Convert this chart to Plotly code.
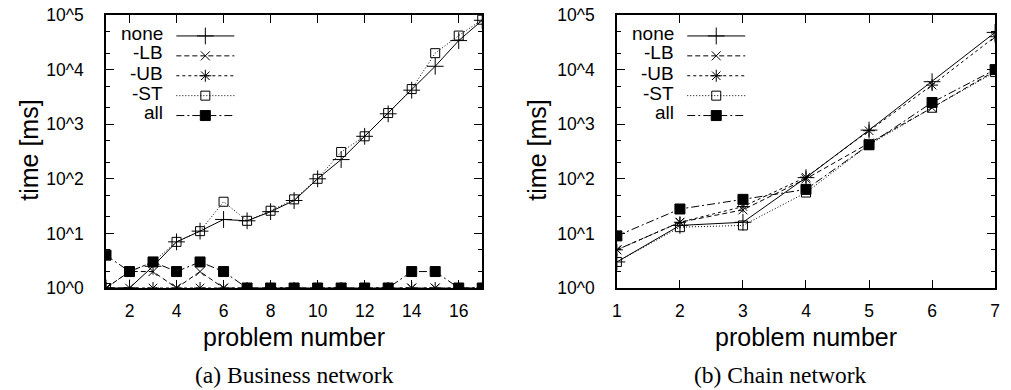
import plotly.graph_objects as go

# ---- data ----
labels = ["none", "-LB", "-UB", "-ST", "all"]

prob_a = list(range(1, 18))
none_a = [1, 1, 2.5, 7, 11, 18, 17, 25, 40, 100, 225, 600, 1550, 4200, 11500, 34000, 80000]
lb_a = [1, 2, 2, 1, 2, 1, 1, 1, 1, 1, 1, 1, 1, 1, 1, 1, 1]
ub_a = [1, 1, 1, 1, 1, 1, 1, 1, 1, 1, 1, 1, 1, 1, 1, 1, 1]
st_a = [1, 2, 3, 7, 11, 38, 17, 26, 42, 100, 310, 600, 1600, 4400, 20000, 42000, 82000]
all_a = [4, 2, 3, 2, 3, 2, 1, 1, 1, 1, 1, 1, 1, 2, 2, 1, 1]

prob_b = list(range(1, 8))
none_b = [3, 14, 16, 105, 780, 6000, 48000]
lb_b = [5, 16, 27, 100, 450, 2000, 9500]
ub_b = [5, 16, 31, 107, 760, 5200, 40000]
st_b = [3, 13, 14, 56, 420, 2000, 9000]
all_b = [9, 28, 42, 64, 420, 2500, 10000]

ytick_vals = [1, 10, 100, 1000, 10000, 100000]
ytick_text = ["10^0", "10^1", "10^2", "10^3", "10^4", "10^5"]
yminor_vals = [2, 5, 20, 50, 200, 500, 2000, 5000, 20000, 50000]
xtick_a = [2, 4, 6, 8, 10, 12, 14, 16]
xtick_b = [1, 2, 3, 4, 5, 6, 7]

# ---- styles ----
dashes = ["solid", "5px,3px", "3px,3px", "1px,2px", "8px,3px,2px,3px"]
symbols = ["cross-thin-open", "x-thin-open", "asterisk-open", "square-open", "square"]
msizes = [12, 9, 10, 9, 10]

W, H = 1011, 390
ML, MR, MT, MB = 0, 0, 15, 102
PH = H - MT - MB


def px_x(p):
    return p / W


def px_y(p):
    return (H - MB - p) / PH


FONT = "Liberation Sans, Arial, sans-serif"

fig = go.Figure()

series_a = [none_a, lb_a, ub_a, st_a, all_a]
series_b = [none_b, lb_b, ub_b, st_b, all_b]

for i, lab in enumerate(labels):
    fig.add_trace(go.Scatter(
        x=prob_a, y=series_a[i], name=lab, mode="lines+markers",
        line=dict(color="black", width=1, dash=dashes[i]),
        marker=dict(symbol=symbols[i], size=msizes[i], color="black",
                    line=dict(color="black", width=1)),
        xaxis="x", yaxis="y", legend="legend"))
for i, lab in enumerate(labels):
    fig.add_trace(go.Scatter(
        x=prob_b, y=series_b[i], name=lab, mode="lines+markers",
        line=dict(color="black", width=1, dash=dashes[i]),
        marker=dict(symbol=symbols[i], size=msizes[i], color="black",
                    line=dict(color="black", width=1)),
        xaxis="x2", yaxis="y2", legend="legend2"))

axis_common = dict(showline=True, linecolor="black", linewidth=1.5, mirror="ticks",
                   ticks="inside", ticklen=8, tickwidth=1, tickcolor="black",
                   showgrid=False, zeroline=False,
                   tickfont=dict(family=FONT, size=17.5, color="black"))

yaxis_common = dict(axis_common, type="log", range=[0, 5], tickvals=ytick_vals,
                    ticktext=ytick_text, ticklabelstandoff=17,
                    minor=dict(tickvals=yminor_vals, ticks="inside", ticklen=4,
                               tickcolor="black", tickwidth=1))

fig.update_layout(
    width=W, height=H, margin=dict(l=ML, r=MR, t=MT, b=MB),
    paper_bgcolor="white", plot_bgcolor="white", showlegend=True,
    xaxis=dict(axis_common, domain=[px_x(102), px_x(482)], range=[1, 17],
               tickvals=xtick_a, anchor="y", ticklabelstandoff=6),
    yaxis=dict(yaxis_common, domain=[0, 1], anchor="x"),
    xaxis2=dict(axis_common, domain=[px_x(618), px_x(1000)], range=[1, 7],
                tickvals=xtick_b, anchor="y2", ticklabelstandoff=6),
    yaxis2=dict(yaxis_common, domain=[0, 1], anchor="x2"),
    legend=dict(x=px_x(168), y=px_y(21), xanchor="left", yanchor="top",
                bgcolor="rgba(0,0,0,0)", itemwidth=58,
                font=dict(family=FONT, size=13, color="rgba(0,0,0,0)")),
    legend2=dict(x=px_x(684), y=px_y(21), xanchor="left", yanchor="top",
                 bgcolor="rgba(0,0,0,0)", itemwidth=58,
                 font=dict(family=FONT, size=13, color="rgba(0,0,0,0)")),
)

ann = []
# legend labels (gnuplot style: text left of sample)
for i, lab in enumerate(labels):
    for xr in (162, 678):
        ann.append(dict(text=lab, x=px_x(xr), y=px_y(33 + 20 * i), xref="paper", yref="paper",
                        xanchor="right", yanchor="middle", showarrow=False,
                        font=dict(family=FONT, size=19, color="black")))
# axis titles
for cx in (292, 809):
    ann.append(dict(text="problem number", x=px_x(cx), y=px_y(337), xref="paper", yref="paper",
                    xanchor="center", yanchor="middle", showarrow=False,
                    font=dict(family=FONT, size=25, color="black")))
for cx in (24, 537):
    ann.append(dict(text="time [ms]", x=px_x(cx), y=px_y(150), xref="paper", yref="paper",
                    xanchor="center", yanchor="middle", showarrow=False, textangle=-90,
                    font=dict(family=FONT, size=25, color="black")))
# captions
caps = [("(a) Business network", 292), ("(b) Chain network", 783)]
for t, cx in caps:
    ann.append(dict(text=t, x=px_x(cx), y=px_y(375), xref="paper", yref="paper",
                    xanchor="center", yanchor="middle", showarrow=False,
                    font=dict(family="Liberation Serif, serif", size=23.5, color="black")))
fig.update_layout(annotations=ann)

fig.write_html("out.html")
